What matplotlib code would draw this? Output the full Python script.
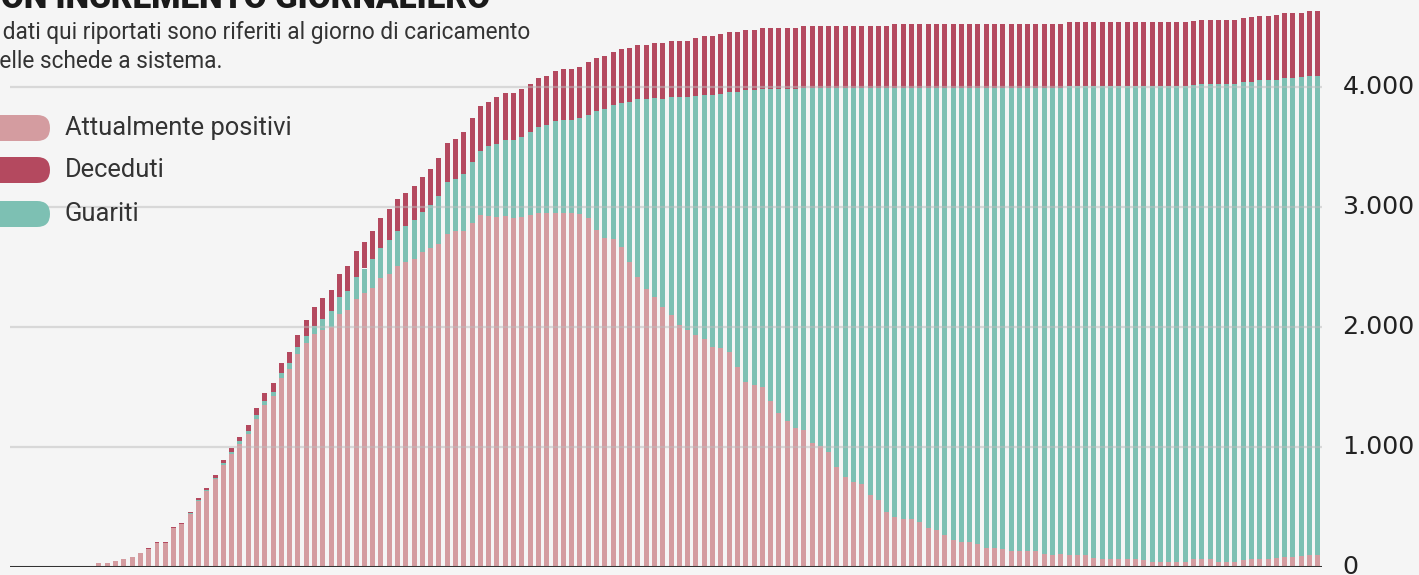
import numpy as np
import matplotlib.pyplot as plt
from matplotlib.patches import FancyBboxPatch

# valori, una barra per giorno
positivi = [13, 33, 33, 52, 69, 88, 118, 153, 206, 206, 325, 357, 445, 552, 635, 735, 850, 945, 1027, 1115, 1240,
            1352, 1425, 1577, 1656, 1780, 1868, 1947, 1979, 1999, 2110, 2140, 2238, 2282, 2330, 2410, 2442, 2513,
            2546, 2567, 2624, 2658, 2691, 2780, 2803,
            2803, 2867, 2936, 2928, 2917, 2928, 2908, 2917, 2936, 2950, 2950, 2950, 2952, 2950, 2943, 2908, 2811,
            2742, 2735, 2672, 2547, 2422, 2317, 2255, 2172, 2103, 2019, 1978, 1936, 1900, 1833, 1825, 1797, 1672,
            1547, 1519,
            1500, 1387, 1283, 1222, 1158, 1144, 1033, 1014, 964, 839, 750, 714, 694, 603, 561, 464, 422,
            404, 404, 376, 329, 314, 269, 228, 207, 207, 193, 165, 158, 154, 139, 139, 139, 139, 111, 103, 107,
            103, 103, 103, 75, 67, 67, 67, 67, 67, 61, 47, 47, 47, 47, 47, 67, 67, 67, 47, 47, 47, 61, 67, 67, 67,
            75, 89, 89, 94, 103, 103]

guariti = [0, 0, 0, 0, 0, 0, 0, 0, 0, 0, 3, 4, 5, 7, 9, 11, 16, 19, 22, 24, 28,
           34, 38, 40, 44, 56, 58, 67, 91, 137, 140, 165, 185, 208, 239, 250, 289, 292, 296, 327, 338, 361, 402,
           432, 433,
           477, 513, 536, 580, 611, 633, 653, 669, 689, 722, 739, 772, 773, 775, 801, 860, 991, 1075, 1116, 1195,
           1334, 1478, 1583, 1653, 1733, 1819, 1903, 1944, 1988, 2040, 2107, 2119, 2161, 2286, 2431, 2459,
           2485, 2598, 2702, 2763, 2827, 2849, 2960, 2979, 3029, 3154, 3243, 3279, 3299, 3390, 3432, 3529, 3575,
           3593, 3593, 3621, 3668, 3683, 3728, 3769, 3790, 3790, 3804, 3832, 3839, 3843, 3858, 3858, 3858, 3858,
           3886, 3894, 3890,
           3904, 3904, 3904, 3932, 3940, 3940, 3940, 3940, 3940, 3946, 3960, 3960, 3960, 3960, 3960, 3950, 3957,
           3957, 3977, 3977, 3977, 3983, 3980, 3993, 3993, 3990, 3990, 3990, 3990, 3995, 3995]

deceduti = [0, 0, 0, 0, 0, 0, 4, 5, 7, 7, 10, 11, 13, 16, 19, 23, 28, 33, 39, 47, 56,
            64, 75, 83, 92, 100, 135, 158, 172, 175, 192, 208, 215, 218, 234, 248, 252, 264, 280, 284, 288, 300,
            322, 326, 333,
            350, 362, 372, 372, 389, 389, 389, 400, 400, 403, 405, 414, 428, 428, 428, 440, 440, 444, 446, 450,
            450, 453, 453, 462, 467, 467, 467, 467, 484, 488, 488, 498, 500, 500, 500, 500,
            509, 509, 509, 509, 509, 520, 520, 520, 520, 520, 520, 520, 520, 520, 520, 520, 531,
            531, 531, 531, 531, 531, 531, 531, 531, 531, 531, 531, 531, 531, 531, 531, 531, 531, 531, 531, 531,
            537, 537, 537, 537, 537, 537, 537, 537, 537, 537, 537, 537, 537, 537, 537, 537, 537, 537, 537, 537,
            537, 537, 537, 537, 537, 537, 537, 537, 537, 537, 537]

y_ticks = [0, 1000, 2000, 3000, 4000]
y_labels = ["0", "1.000", "2.000", "3.000", "4.000"]
legend_labels = ["Attualmente positivi", "Deceduti", "Guariti"]

COL_POS = "#d49ca0"
COL_DEC = "#b4495f"
COL_GUA = "#7dc0b3"
BG = "#f5f5f5"

W, H = 1419, 575
fig = plt.figure(figsize=(W / 100, H / 100), dpi=100, facecolor=BG)

# area del grafico: zero a y=567 px, 120 px ogni 1000
ax = fig.add_axes([10 / W, (H - 567.3) / H, 1312 / W, 567.3 / H])
ax.set_facecolor(BG)

x = np.arange(len(positivi))
pos = np.array(positivi)
gua = np.array(guariti)
dec = np.array(deceduti)

ax.bar(x, pos, width=0.6, color=COL_POS, zorder=2)
ax.bar(x, gua, bottom=pos, width=0.6, color=COL_GUA, zorder=2)
ax.bar(x, dec, bottom=pos + gua, width=0.6, color=COL_DEC, zorder=2)

ax.set_xlim(-9.73, 148.5)
ax.set_ylim(0, 567.3 / 0.12)

for v in y_ticks[1:]:
    ax.axhline(v, color="#bdbdbd", lw=1.6, alpha=0.5, zorder=3)
ax.axhline(0, color="#333333", lw=2.2, zorder=4)

for s in ax.spines.values():
    s.set_visible(False)
ax.set_xticks([])
ax.set_yticks([])

trans = ax.get_yaxis_transform()
for v, lab in zip(y_ticks, y_labels):
    ax.text(1.0155, v, lab, transform=trans, ha="left", va="center",
            fontsize=18.2, color="#222222", family="DejaVu Sans", clip_on=False)

# livello per titolo, sottotitolo e legenda in pixel
ov = fig.add_axes([0, 0, 1, 1], facecolor="none")
ov.set_xlim(0, W)
ov.set_ylim(H, 0)
ov.axis("off")

ov.text(-21, 8, "CON INCREMENTO GIORNALIERO", fontsize=24, fontweight="black",
        family="Roboto", color="#1a1a1a", va="baseline", ha="left")
ov.text(-9, 33, "I dati qui riportati sono riferiti al giorno di caricamento",
        fontsize=16.3, family="Roboto", color="#333333", va="center", ha="left")
ov.text(-13, 62, "nelle schede a sistema.",
        fontsize=16.3, family="Roboto", color="#333333", va="center", ha="left")

leg_y = [128, 170, 214]
leg_cols = [COL_POS, COL_DEC, COL_GUA]
for yy, c, lab in zip(leg_y, leg_cols, legend_labels):
    ov.add_patch(FancyBboxPatch((-30, yy - 13), 80, 26,
                                boxstyle="round,pad=0,rounding_size=13",
                                fc=c, ec="none"))
    ov.text(65, yy, lab, fontsize=18.4, family="Roboto", color="#333333",
            va="center", ha="left")

fig.savefig("out.png", dpi=100, facecolor=BG)
